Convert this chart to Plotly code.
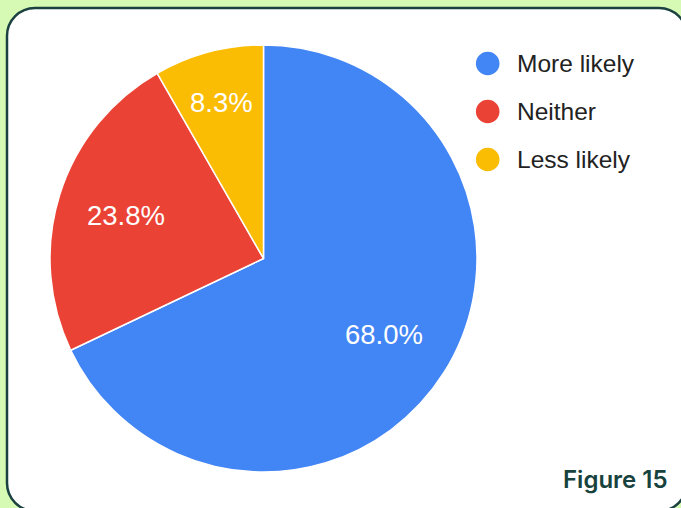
import math
import plotly.graph_objects as go

# Survey responses (percent)
categories = ["More likely", "Neither", "Less likely"]
values = [68.0, 23.8, 8.3]
colors = ["#4285f4", "#ea4335", "#fbbc04"]
# how far out from the centre each slice label sits (fraction of radius)
label_radius = [0.665, 0.675, 0.755]

W, H = 681, 508


def px(x):
    return x / W


def py(y):
    return 1 - y / H


# pie geometry in pixels
cx, cy, r = 263.5, 258.5, 213.5

fig = go.Figure()
fig.add_trace(go.Pie(
    labels=categories,
    values=values,
    sort=False,
    direction="clockwise",
    rotation=0,
    marker=dict(colors=colors, line=dict(color="white", width=1.5)),
    textinfo="none",
    showlegend=False,
    domain=dict(x=[px(cx - r), px(cx + r)], y=[py(cy + r), py(cy - r)]),
))

# rounded card behind the chart
left, top, right, bottom, rad = 7, 8, 687, 511, 28
k = 0.5523 * rad
pts = [
    f"M {px(left + rad)},{py(top)}",
    f"L {px(right - rad)},{py(top)}",
    f"C {px(right - rad + k)},{py(top)} {px(right)},{py(top + rad - k)} {px(right)},{py(top + rad)}",
    f"L {px(right)},{py(bottom - rad)}",
    f"C {px(right)},{py(bottom - rad + k)} {px(right - rad + k)},{py(bottom)} {px(right - rad)},{py(bottom)}",
    f"L {px(left + rad)},{py(bottom)}",
    f"C {px(left + rad - k)},{py(bottom)} {px(left)},{py(bottom - rad + k)} {px(left)},{py(bottom - rad)}",
    f"L {px(left)},{py(top + rad)}",
    f"C {px(left)},{py(top + rad - k)} {px(left + rad - k)},{py(top)} {px(left + rad)},{py(top)}",
    "Z",
]
shapes = [dict(type="path", xref="paper", yref="paper", path=" ".join(pts),
               fillcolor="white", line=dict(color="#1b4240", width=2.5), layer="below")]

annotations = []

# percentage labels at the middle angle of each slice
total = sum(values)
start = 0.0
for v, f in zip(values, label_radius):
    mid = (start + v / 2) / total * 2 * math.pi
    start += v
    lx = cx + f * r * math.sin(mid)
    ly = cy - f * r * math.cos(mid)
    annotations.append(dict(
        x=px(lx), y=py(ly), xref="paper", yref="paper",
        text=f"{v:.1f}%", showarrow=False, xanchor="center", yanchor="middle",
        font=dict(family="Arial, Liberation Sans", size=27.5, color="white"),
    ))

# legend: coloured dots with labels
for i, (name, col) in enumerate(zip(categories, colors)):
    ly = 63.5 + i * 48
    shapes.append(dict(type="circle", xref="paper", yref="paper",
                       x0=px(487.7 - 11.8), x1=px(487.7 + 11.8),
                       y0=py(ly + 11.8), y1=py(ly - 11.8),
                       fillcolor=col, line=dict(width=0)))
    annotations.append(dict(
        x=px(515.5), y=py(ly), xref="paper", yref="paper", text=name,
        showarrow=False, xanchor="left", yanchor="middle", borderpad=0,
        font=dict(family="Arial, Liberation Sans", size=24.5, color="#222222"),
    ))

annotations.append(dict(
    x=px(669), y=py(479), xref="paper", yref="paper", text="Figure 15",
    showarrow=False, xanchor="right", yanchor="middle", borderpad=0,
    font=dict(family="Inter", size=24, color="#17423d", weight=600),
))

fig.update_layout(
    width=W, height=H,
    margin=dict(l=0, r=0, t=0, b=0),
    paper_bgcolor="#d6fab4",
    plot_bgcolor="rgba(0,0,0,0)",
    shapes=shapes,
    annotations=annotations,
)

fig.write_html("out.html")
